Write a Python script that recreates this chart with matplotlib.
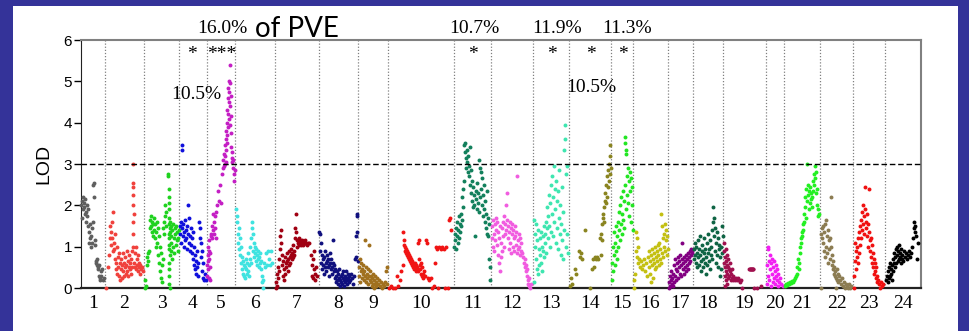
import numpy as np
import matplotlib
matplotlib.use("Agg")
import matplotlib.pyplot as plt
from matplotlib.patches import Rectangle

# chromosome lengths (cM) and colours
chrom_names = [str(i) for i in range(1, 25)]
chrom_len = [96, 156, 140, 112, 112, 160, 176, 156, 120, 264, 148, 168,
             144, 168, 88, 140, 100, 120, 172, 72, 144, 132, 128, 144]
chrom_colors = ['#5f5f5f', '#f0413c', '#1ed21e', '#0f0fdc', '#c41ec4', '#3fe3e0',
                '#a00012', '#10107e', '#a0701e', '#f01414', '#12805c', '#f15ce0',
                '#3ee6b0', '#8a8420', '#22e622', '#c4c012', '#820082', '#0e6444',
                '#a0104e', '#f21ef2', '#22f022', '#8c7c52', '#f01010', '#000000']

# marker position (cM within chromosome), LOD
chr1 = [(0,2.0),(2,1.7),(4,2.1),(6,1.9),(8,2.2),(10,1.95),(12,2.05),(14,1.8),(16,2.15),(18,1.85),
        (20,1.6),(22,2.0),(24,1.75),(26,1.9),(28,1.5),(30,1.1),(32,1.35),(34,1.2),(36,1.55),(38,1.0),
        (40,1.25),(42,1.45),(44,1.1),(46,1.6),(48,2.5),(50,2.55),(52,2.2),(54,1.15),(56,1.05),(58,0.65),
        (60,0.6),(62,0.55),(64,0.7),(66,0.5),(68,0.45),(70,0.3),(72,0.55),(74,0.2),(76,0.25),(78,0.4),
        (80,0.3),(84,0.45),(88,0.2),(92,0.25)]
chr2 = [(4,0.0),(10,0.5),(14,0.8),(18,1.2),(20,1.5),(22,1.05),(24,1.35),(26,1.6),(28,1.2),(30,0.9),
        (32,1.85),(34,1.1),(36,0.95),(38,0.7),(40,1.3),(42,0.45),(44,0.6),(46,1.0),(48,0.35),(50,0.75),
        (52,0.5),(54,0.85),(56,0.3),(58,0.6),(60,0.2),(62,0.45),(64,0.7),(66,0.25),(68,0.55),(70,0.85),
        (72,0.4),(74,0.6),(76,0.3),(78,0.5),(80,0.75),(82,0.35),(84,0.55),(86,0.9),(88,0.4),(90,0.65),
        (92,0.3),(94,0.5),(96,0.8),(98,0.45),(100,0.6),(102,0.35),(104,0.7),(106,0.5),(108,0.9),(110,1.0),
        (111,1.3),(112,1.6),(112,2.0),(112,2.25),(113,2.45),(113,2.55),(112,3.0),(114,1.8),
        (116,0.6),(118,0.85),(120,0.5),(122,1.0),(124,0.45),(126,0.7),(128,0.55),(130,0.8),(132,0.4),
        (134,0.6),(136,0.5),(138,0.35),(140,0.55),(144,0.45),(148,0.5),(152,0.4)]
chr3 = [(2,0.0),(4,0.2),(6,0.05),(10,0.55),(12,0.75),(14,0.85),(16,0.65),(18,0.9),(22,1.45),(24,1.65),
        (26,1.75),(28,1.5),(30,1.35),(32,1.6),(34,1.25),(36,1.55),(38,1.4),(40,1.7),(42,1.2),(44,1.55),
        (46,1.0),(48,1.35),(50,1.6),(52,1.1),(54,1.45),(56,0.8),(58,1.25),(60,0.6),(62,1.0),(64,0.4),
        (66,0.85),(68,0.25),(70,0.55),(72,0.15),(74,0.7),(76,1.45),(78,1.6),(80,1.3),(82,1.75),(84,2.0),
        (86,1.5),(88,1.85),(96,2.75),(97,2.7),(98,2.4),(99,2.2),(100,2.05),(100,1.9),(101,1.7),(98,1.55),
        (102,1.45),(99,1.3),(100,1.2),(101,1.05),(98,0.95),(102,0.8),(100,0.6),(99,0.45),(101,0.3),
        (100,0.1),(102,0.0),(104,1.6),(105,1.35),(106,1.1),(107,0.9),(108,1.5),(109,1.25),(110,0.7),
        (112,1.4),(114,1.0),(116,1.55),(118,1.2),(120,0.85),(122,1.45),(124,1.3),(126,1.05),(128,1.5),
        (130,1.15),(132,1.35),(134,0.9),(136,1.2),(138,1.4)]
chr4 = [(2,1.5),(4,1.3),(6,1.6),(8,1.1),(10,1.45),(12,3.45),(13,3.35),(14,1.25),(16,1.55),(18,1.0),
        (20,1.35),(22,1.65),(24,1.15),(26,1.4),(28,1.2),(30,0.95),(32,1.5),(34,2.0),(36,1.3),(38,1.1),
        (40,1.7),(42,1.25),(44,0.9),(46,1.45),(48,1.05),(50,1.2),(52,0.85),(54,1.35),(56,0.7),(58,1.0),
        (60,0.55),(62,0.8),(64,0.45),(66,0.65),(68,0.35),(70,0.9),(72,0.5),(74,0.3),(76,0.6),(80,1.6),
        (82,1.45),(84,1.2),(86,0.75),(88,1.1),(90,0.4),(92,0.9),(94,0.25),(96,0.6),(98,0.2),(102,0.35),
        (106,0.2)]
chr5 = [(0,0.3),(1,0.55),(2,0.8),(3,0.45),(4,1.0),(5,0.65),(6,0.9),(7,0.25),(8,0.7),(9,1.15),
        (10,0.5),(11,0.85),(12,0.2),(14,1.3),(16,1.25),(18,1.5),(20,1.2),(22,1.8),(24,1.4),(26,1.6),
        (28,1.3),(30,1.75),(32,1.45),(34,1.2),(36,1.85),(40,2.0),(44,2.35),(48,2.1),(52,2.5),(56,2.05),
        (60,2.75),(62,2.9),(64,3.1),(66,3.25),(68,2.95),(70,3.0),(72,3.45),(73,3.2),(74,3.6),(75,3.35),
        (76,3.8),(77,3.05),(78,4.0),(79,3.5),(80,4.3),(81,3.7),(82,4.6),(83,3.9),(84,4.85),(85,4.2),
        (86,5.0),(87,4.5),(88,4.75),(89,4.1),(90,5.4),(91,4.4),(92,4.95),(93,3.95),(94,4.65),(95,3.75),
        (96,4.15),(97,3.4),(98,3.3),(99,3.15),(100,3.05),(102,2.9),(104,3.1),(106,2.75),(108,2.6),(110,2.85)]
chr6 = [(4,1.9),(6,1.6),(8,1.75),(10,1.3),(12,1.1),(14,1.45),(16,0.95),(18,1.2),(20,0.8),(22,1.0),
        (24,0.6),(26,0.75),(28,0.45),(30,0.65),(32,0.35),(34,0.55),(36,0.3),(38,0.5),(40,0.25),(42,0.45),
        (44,0.7),(46,0.35),(48,0.6),(50,0.4),(52,0.85),(54,0.55),(56,0.3),(58,0.7),(60,1.0),(62,0.6),
        (64,1.2),(66,1.6),(68,1.45),(70,1.3),(72,0.9),(74,1.1),(76,0.75),(78,1.0),(80,0.85),(82,0.65),
        (84,0.95),(86,0.8),(88,0.55),(90,0.7),(92,0.9),(94,0.5),(96,0.75),(98,0.6),(100,0.85),(102,0.45),
        (104,0.65),(106,0.3),(108,0.15),(110,0.0),(112,0.2),(116,0.6),(120,0.5),(124,0.85),(128,0.55),
        (132,0.9),(136,0.7),(140,0.55),(144,0.9),(148,0.6)]
chr7 = [(2,0.0),(4,0.15),(6,0.35),(8,0.05),(10,0.5),(12,0.25),(14,0.7),(16,0.4),(18,0.95),(20,1.25),
        (22,1.4),(24,1.1),(26,0.8),(28,0.55),(30,0.3),(32,0.65),(34,0.2),(36,0.45),(38,0.75),(40,0.35),
        (42,0.6),(44,0.5),(46,0.85),(48,0.65),(50,0.4),(52,0.7),(54,0.55),(56,0.9),(58,0.75),(60,0.6),
        (62,0.8),(64,0.95),(66,0.7),(68,0.85),(70,0.75),(72,1.05),(74,0.9),(76,0.8),(78,1.2),(80,1.45),
        (82,1.8),(84,1.35),(86,1.15),(88,1.0),(90,1.1),(92,1.15),(94,1.05),(96,1.2),(98,1.1),(100,1.15),
        (102,1.1),(104,1.05),(106,1.15),(108,1.1),(110,1.1),(112,1.05),(114,1.1),(116,1.1),(118,1.15),
        (120,1.1),(124,1.1),(128,1.05),(132,1.1),(136,1.1),(142,0.8),(146,0.55),(148,0.3),(150,0.7),
        (152,0.25),(154,0.45),(156,0.9),(158,0.35),(160,0.2),(164,0.5),(168,0.3)]
chr8 = [(0,1.35),(2,1.3),(4,0.9),(6,1.1),(8,0.6),(10,0.8),(12,0.45),(14,0.7),(16,0.55),(18,0.35),
        (20,0.75),(22,0.5),(24,0.9),(26,0.6),(28,0.4),(30,0.65),(32,0.8),(34,0.5),(36,0.7),(38,0.3),
        (40,0.55),(42,0.85),(44,0.6),(46,0.45),(48,0.7),(50,0.5),(52,0.35),(54,0.6),(56,1.15),(58,0.4),
        (60,0.55),(62,0.25),(64,0.45),(66,0.3),(68,0.15),(70,0.4),(72,0.2),(74,0.35),(76,0.1),(78,0.25),
        (80,0.45),(82,0.2),(84,0.05),(86,0.3),(88,0.15),(90,0.35),(92,0.1),(94,0.25),(96,0.4),(98,0.2),
        (100,0.05),(102,0.3),(104,0.15),(106,0.25),(108,0.4),(110,0.1),(112,0.2),(114,0.35),(116,0.25),
        (118,0.15),(120,0.3),(124,0.2),(128,0.35),(132,0.25),(136,0.1),(140,0.3),(144,0.7),(146,0.75),
        (148,1.25),(150,1.35),(152,1.8),(153,1.75),(154,0.65)]
chr9 = [(2,0.3),(4,0.5),(6,0.15),(8,0.7),(10,0.4),(12,0.6),(14,0.25),(16,0.45),(18,0.35),(20,0.55),
        (22,0.2),(24,0.4),(26,1.15),(28,0.3),(30,0.5),(32,0.15),(34,0.35),(36,0.25),(38,0.45),(40,0.1),
        (42,0.3),(44,1.05),(46,0.2),(48,0.4),(50,0.15),(52,0.3),(54,0.05),(56,0.25),(58,0.1),(60,0.35),
        (62,0.0),(64,0.2),(66,0.1),(68,0.3),(70,0.05),(72,0.15),(76,0.25),(80,0.1),(84,0.2),(88,0.05),
        (92,0.15),(96,0.0),(100,0.1),(104,0.05),(108,0.15),(112,0.4),(114,0.5),(116,0.1)]
chr10 = [(4,0.0),(12,0.05),(20,0.0),(28,0.0),(36,0.3),(40,0.05),(46,0.2),(52,0.4),(58,0.55),(60,1.35),
         (62,1.15),(64,1.05),(66,0.9),(68,1.0),(70,0.85),(72,0.95),(74,0.8),(76,0.9),(78,0.75),(80,0.85),
         (82,0.7),(84,0.8),(86,0.65),(88,0.75),(90,0.6),(92,0.7),(94,0.55),(96,0.65),(98,0.5),(100,0.6),
         (102,0.55),(104,0.45),(106,0.6),(108,0.5),(110,0.4),(112,0.55),(114,0.45),(116,0.5),(118,0.4),
         (120,1.1),(122,1.15),(124,0.7),(126,0.55),(128,0.45),(130,0.35),(132,0.6),(134,0.3),(136,0.5),
         (138,0.35),(140,0.25),(144,0.4),(148,0.3),(152,1.15),(156,1.1),(160,0.25),(164,0.2),(170,0.25),
         (176,0.0),(182,0.05),(188,0.6),(192,1.0),(196,0.95),(200,0.0),(204,1.0),(210,0.95),(216,1.0),
         (222,0.95),(228,0.0),(232,1.0),(240,0.0),(244,1.65),(248,1.7),(252,1.4)]
chr11 = [(0,1.0),(2,1.3),(4,1.15),(6,1.45),(8,0.95),(10,1.25),(12,1.6),(14,1.1),(16,1.4),(18,1.75),
         (20,1.2),(22,1.55),(24,1.35),(26,1.8),(28,1.5),(30,1.65),(32,2.2),(34,1.95),(36,2.4),(38,2.6),
         (40,3.45),(42,3.3),(44,3.5),(46,3.15),(48,2.9),(50,3.35),(52,3.05),(54,2.8),(56,3.2),(58,2.95),
         (60,2.7),(62,3.4),(64,2.5),(66,2.85),(68,2.3),(70,2.6),(72,2.1),(74,2.45),(76,1.95),(78,2.25),
         (80,2.0),(84,1.25),(86,2.35),(88,2.15),(90,1.9),(92,2.55),(94,2.05),(96,2.3),(98,1.85),(100,3.1),
         (102,2.2),(104,2.9),(106,2.4),(108,2.8),(110,2.0),(112,2.65),(114,1.75),(116,2.25),(118,1.9),
         (120,2.5),(122,1.6),(124,2.1),(126,1.45),(128,1.8),(130,2.35),(132,1.3),(134,1.7),(136,1.25),
         (138,1.55),(140,0.7),(142,0.5),(144,0.2)]
chr12 = [(2,1.2),(4,1.5),(6,1.0),(8,1.65),(10,1.3),(12,0.9),(14,1.55),(16,1.15),(18,1.7),(20,1.4),
         (22,1.05),(24,1.6),(26,0.8),(28,1.35),(30,0.6),(32,1.2),(34,0.4),(36,1.5),(38,0.75),(40,1.1),
         (42,1.45),(44,0.9),(46,1.6),(48,1.25),(50,1.75),(52,1.0),(54,1.55),(56,1.3),(58,2.0),(60,1.4),
         (62,2.3),(64,1.65),(66,1.2),(68,1.5),(70,0.95),(72,1.35),(74,1.6),(76,1.1),(78,1.45),(80,0.85),
         (82,1.3),(84,1.55),(86,1.0),(88,1.4),(90,1.2),(92,0.9),(94,1.5),(96,1.25),(98,1.05),(100,1.35),
         (102,0.85),(104,2.7),(106,1.15),(108,0.95),(110,1.3),(112,1.0),(114,0.8),(116,1.2),(118,0.9),
         (120,1.1),(124,0.85),(128,0.75),(132,0.6),(134,0.5),(136,0.7),(138,0.4),(140,0.55),(142,0.3),
         (144,0.45),(146,0.2),(148,0.1),(150,0.25),(152,0.05),(156,0.0),(160,0.1)]
chr13 = [(2,0.15),(4,1.65),(6,1.3),(8,1.0),(10,1.55),(12,0.7),(14,1.15),(16,0.45),(18,1.4),(20,0.35),
         (22,0.95),(24,0.55),(26,1.2),(28,0.8),(30,1.35),(32,0.6),(34,1.0),(36,0.4),(38,1.25),(40,0.9),
         (42,1.5),(44,0.75),(46,1.3),(48,1.1),(50,1.6),(52,0.85),(54,1.45),(56,1.95),(58,1.2),(60,1.75),
         (62,2.25),(64,1.5),(66,1.0),(68,2.05),(70,1.35),(72,2.5),(74,1.8),(76,2.7),(78,1.25),(80,2.2),
         (82,2.95),(84,1.6),(86,2.4),(88,1.9),(90,1.1),(92,2.6),(94,1.45),(96,2.1),(98,0.95),(100,2.35),
         (102,1.7),(104,2.85),(106,1.3),(108,2.0),(110,0.8),(112,1.55),(114,2.45),(116,1.15),(118,1.85),
         (120,0.7),(122,1.4),(124,3.35),(126,3.6),(128,3.95),(130,2.75),(132,1.0),(134,2.95),(136,1.3),
         (138,0.85)]
chr14 = [(4,0.05),(8,0.25),(12,0.1),(24,0.45),(28,0.35),(40,0.9),(44,0.75),(48,0.85),(52,0.7),(64,1.4),
         (84,0.0),(92,0.45),(96,0.7),(100,0.5),(104,0.75),(108,0.7),(112,0.75),(116,0.7),(124,1.2),
         (126,0.8),(128,1.3),(130,1.15),(132,1.55),(134,1.7),(136,1.8),(138,1.95),(140,1.6),(142,2.1),
         (144,2.3),(146,2.05),(148,2.5),(150,2.2),(152,2.7),(154,2.45),(156,2.85),(158,2.6),(160,3.0),
         (162,2.75),(164,3.45),(165,3.2),(166,2.9)]
chr15 = [(2,0.2),(4,0.6),(6,1.0),(8,0.4),(10,1.35),(12,0.8),(14,1.1),(16,0.55),(18,1.5),(20,0.9),
         (22,1.25),(24,0.7),(26,1.6),(28,1.0),(30,1.4),(32,1.85),(34,1.15),(36,2.0),(38,1.55),(40,2.2),
         (42,1.3),(44,1.8),(46,2.35),(48,1.65),(50,2.1),(52,1.45),(54,2.5),(56,3.65),(57,3.5),(58,3.35),
         (59,3.25),(60,1.9),(62,2.7),(64,2.25),(66,2.9),(68,2.05),(70,2.6),(72,1.75),(74,2.8),(76,2.35),
         (78,1.6),(80,2.65),(82,2.0),(84,2.45),(86,1.4)]
chr16 = [(2,0.0),(4,0.2),(6,0.35),(10,1.35),(12,0.9),(14,1.2),(16,0.75),(18,1.0),(20,0.6),(24,0.7),
         (28,0.5),(32,0.65),(36,0.45),(40,0.55),(44,0.7),(48,0.4),(52,0.6),(56,0.3),(60,0.75),(62,0.5),
         (64,0.9),(66,0.35),(68,0.65),(70,0.8),(72,0.15),(74,0.55),(76,0.95),(78,0.7),(80,0.25),(82,0.6),
         (84,0.85),(86,0.45),(88,1.0),(90,0.75),(92,0.5),(94,0.9),(96,0.65),(98,1.05),(100,0.8),(102,0.55),
         (104,1.1),(106,0.7),(108,0.95),(110,0.6),(112,1.8),(114,1.5),(116,0.85),(118,1.2),(120,0.75),
         (122,1.3),(124,1.0),(126,1.55),(128,0.9),(130,1.15),(132,1.4),(134,0.8),(136,1.25),(138,0.95)]
chr17 = [(2,0.0),(4,0.15),(6,0.3),(8,0.05),(10,0.2),(12,0.4),(14,0.1),(16,0.25),(18,0.05),(20,0.35),
         (22,0.55),(24,0.15),(26,0.3),(28,0.7),(30,0.45),(32,0.2),(34,0.6),(36,0.4),(38,0.75),(40,0.25),
         (42,0.5),(44,0.65),(46,0.35),(48,0.8),(50,0.55),(52,0.3),(54,0.7),(56,1.1),(58,0.45),(60,0.6),
         (62,0.35),(64,0.75),(66,0.5),(68,0.65),(70,0.4),(72,0.8),(74,0.55),(76,0.7),(78,0.45),(80,0.85),
         (82,0.6),(84,0.75),(86,0.9),(88,0.65),(90,0.8),(92,0.95),(94,0.85),(96,0.9)]
chr18 = [(2,0.7),(4,0.95),(6,1.1),(8,0.8),(10,0.6),(12,1.0),(14,0.85),(16,0.5),(18,1.15),(20,0.75),
         (22,0.95),(24,0.55),(26,0.8),(28,1.25),(30,0.65),(32,0.4),(34,0.9),(36,1.05),(38,0.7),(40,0.5),
         (42,0.85),(44,1.2),(46,0.6),(48,0.95),(50,0.35),(52,0.75),(54,1.1),(56,0.55),(58,0.85),(60,1.3),
         (62,0.65),(64,0.95),(66,0.45),(68,1.15),(70,0.8),(72,1.0),(74,1.4),(76,0.7),(78,1.6),(80,1.95),
         (82,1.25),(84,1.7),(86,0.9),(88,1.45),(90,0.6),(92,1.1),(94,1.35),(96,0.8),(98,1.2),(100,0.5),
         (102,0.95),(104,1.05),(106,0.3),(108,0.75),(110,1.0),(112,0.45),(114,0.85),(116,1.5),(118,1.25)]
chr19 = [(2,0.9),(4,1.1),(5,0.6),(6,0.3),(7,0.75),(8,0.05),(9,0.5),(10,0.95),(11,0.2),(12,0.65),
         (13,0.4),(14,0.8),(15,0.1),(16,0.55),(17,0.35),(18,0.7),(19,0.25),(20,0.5),(22,0.45),(24,0.3),
         (26,0.6),(28,0.4),(30,0.2),(32,0.35),(34,0.45),(36,0.25),(38,0.3),(40,0.2),(44,0.25),(48,0.2),
         (52,0.25),(56,0.2),(60,0.25),(64,0.2),(68,0.15),(72,0.2),(76,0.0),(104,0.45),(106,0.45),(108,0.45),
         (110,0.45),(112,0.45),(114,0.45),(116,0.45),(118,0.45),(120,0.45),(124,0.0),(136,0.0),(150,0.05)]
chr20 = [(2,0.1),(4,0.55),(6,0.3),(8,1.0),(9,0.95),(10,0.65),(12,0.2),(14,0.8),(16,0.45),(18,0.05),
         (20,0.6),(22,0.35),(24,0.7),(26,0.15),(28,0.5),(30,0.25),(32,0.65),(34,0.4),(36,0.1),(38,0.55),
         (40,0.3),(42,0.2),(44,0.45),(46,0.05),(48,0.35),(52,0.15),(56,0.25),(60,0.1),(66,0.05)]
chr21 = [(2,0.05),(6,0.1),(10,0.08),(14,0.12),(18,0.1),(22,0.15),(26,0.12),(30,0.18),(34,0.15),(38,0.2),
         (42,0.25),(46,0.3),(50,0.35),(52,0.5),(56,0.7),(58,0.45),(60,0.6),(62,0.85),(64,1.0),(66,1.2),
         (68,1.1),(70,1.35),(72,1.25),(74,1.55),(76,1.4),(78,1.8),(80,1.6),(82,1.95),(84,2.2),(86,1.7),
         (88,2.4),(90,3.0),(92,2.1),(94,2.5),(96,2.25),(98,1.9),(100,2.35),(102,2.05),(104,2.45),(106,2.15),
         (108,2.3),(110,1.95),(112,2.2),(114,2.6),(116,2.35),(118,2.75),(120,2.5),(122,2.95),(124,2.65),
         (126,2.3),(128,2.8),(130,2.4),(132,2.0),(134,1.75),(136,1.9),(140,1.8)]
chr22 = [(2,0.0),(4,1.3),(6,1.45),(8,1.2),(10,1.5),(12,1.1),(14,0.9),(16,1.35),(18,0.75),(20,1.55),
         (22,1.0),(24,1.65),(26,0.85),(28,1.25),(30,1.4),(32,0.6),(34,1.15),(36,0.95),(38,1.2),(40,0.7),
         (42,2.2),(44,1.0),(46,0.55),(48,0.8),(50,0.45),(52,0.65),(54,0.35),(56,0.5),(58,0.3),(60,0.4),
         (62,0.0),(64,0.25),(66,0.45),(68,0.2),(70,0.35),(72,0.15),(76,0.3),(80,0.2),(84,0.1),(88,0.25),
         (92,0.05),(96,0.15),(100,0.0),(104,0.1),(108,0.05),(112,0.0),(116,0.1),(120,0.0),(124,0.05)]
chr23 = [(2,0.0),(4,0.3),(6,0.65),(8,1.1),(10,0.45),(12,0.9),(14,0.75),(16,1.0),(18,0.6),(20,1.2),
         (22,0.85),(24,1.35),(26,1.05),(28,1.5),(30,1.2),(32,1.65),(34,1.4),(36,1.85),(38,2.0),(40,1.55),
         (42,1.75),(44,1.3),(46,2.45),(48,1.9),(50,1.6),(52,1.45),(54,1.8),(56,1.25),(58,1.55),(60,1.0),
         (62,1.35),(64,2.4),(66,1.15),(68,0.9),(70,1.2),(72,0.75),(74,1.05),(76,0.6),(78,0.85),(80,0.5),
         (82,0.7),(84,0.35),(86,0.6),(88,0.4),(90,0.25),(92,0.5),(94,0.3),(96,0.15),(100,0.2),(104,0.1),
         (108,0.0),(112,0.15),(116,0.05),(120,0.1)]
chr24 = [(4,0.2),(8,0.3),(10,0.15),(12,0.4),(14,0.25),(16,0.5),(18,0.3),(20,0.6),(22,0.35),(24,0.45),
         (26,0.2),(28,0.55),(30,0.7),(32,0.4),(34,0.6),(36,0.85),(38,0.5),(40,0.75),(42,0.95),(44,0.6),
         (46,0.8),(48,1.0),(50,0.65),(52,0.9),(54,0.7),(56,1.05),(58,0.75),(60,0.85),(62,0.6),(64,0.95),
         (66,0.7),(68,0.8),(72,0.65),(76,0.9),(80,0.75),(84,0.85),(88,0.7),(92,0.8),(96,0.9),(100,0.75),
         (104,0.85),(108,1.0),(112,1.2),(114,1.45),(116,1.6),(118,1.35),(120,1.5),(124,1.25),(128,0.7),
         (132,1.1)]

chrom_data = [chr1, chr2, chr3, chr4, chr5, chr6, chr7, chr8, chr9, chr10, chr11, chr12,
              chr13, chr14, chr15, chr16, chr17, chr18, chr19, chr20, chr21, chr22, chr23, chr24]

# (chromosome index, cM, text) for significance stars and PVE labels
star_marks = [(3, 52, '*'), (4, 60, '***'), (10, 76, '*'), (12, 76, '*'), (13, 88, '*'), (14, 48, '*')]
pve_top = [(4, 60, '16.0%'), (10, 80, '10.7%'), (12, 96, '11.9%'), (14, 64, '11.3%')]
pve_mid = [(3, 68, 4.57, '10.5%'), (13, 88, 4.73, '10.5%')]
threshold = 3.0

offsets = np.concatenate([[0], np.cumsum(chrom_len)])
centers = offsets[:-1] + np.array(chrom_len) / 2.0

serif = 'Liberation Serif'
sans = 'Liberation Sans'

fig = plt.figure(figsize=(9.69, 3.31), dpi=100, facecolor='#343399')
fig.patches.append(Rectangle((13 / 969, 0), (958 - 13) / 969, 325 / 331,
                             transform=fig.transFigure, facecolor='white', edgecolor='none', zorder=-5))
ax = fig.add_axes([81 / 969, 43 / 331, 840 / 969, 248 / 331])
ax.set_facecolor('none')

for i, pts in enumerate(chrom_data):
    pos = np.array([p[0] for p in pts]) + offsets[i]
    lod = np.array([p[1] for p in pts])
    ax.scatter(pos, lod, s=8, color=chrom_colors[i], linewidths=0, zorder=3, clip_on=False)

for b in offsets[1:-1]:
    ax.axvline(b, color='#808080', lw=0.9, ls=(0, (1, 1.5)), zorder=1)
ax.axhline(threshold, color='black', lw=1, ls=(0, (4, 2)), zorder=4)

ax.set_xlim(0, offsets[-1])
ax.set_ylim(0, 6)
ax.set_xticks(centers)
ax.set_xticklabels(chrom_names, fontfamily=serif, fontsize=14)
ax.tick_params(axis='x', length=0, pad=5)
ax.set_yticks(range(0, 7))
ax.tick_params(axis='y', length=5, width=1, pad=1.5, labelsize=11)
for lab in ax.get_yticklabels():
    lab.set_fontfamily(sans)
ax.set_ylabel('LOD', fontfamily=sans, fontsize=14, labelpad=8)

ax.spines['left'].set_color('#222222')
ax.spines['bottom'].set_color('#222222')
ax.spines['bottom'].set_linewidth(1.6)
for side in ['top', 'right']:
    ax.spines[side].set_color('#808080')
    ax.spines[side].set_linewidth(1.5)

for c, cm, s in star_marks:
    ax.text(offsets[c] + cm, 5.55, s, fontfamily=serif, fontsize=14,
            ha='center', va='baseline')
for c, cm, s in pve_top:
    ax.text(offsets[c] + cm, 6.17, s, fontfamily=serif, fontsize=14,
            ha='center', va='baseline')
ax.text(offsets[5] + 80, 6.07, 'of PVE', fontfamily='Lato', fontsize=20,
        ha='left', va='baseline')
for c, cm, y, s in pve_mid:
    ax.text(offsets[c] + cm, y, s, fontfamily=serif, fontsize=14,
            ha='center', va='baseline')

fig.savefig('out.png', dpi=100, facecolor=fig.get_facecolor())
